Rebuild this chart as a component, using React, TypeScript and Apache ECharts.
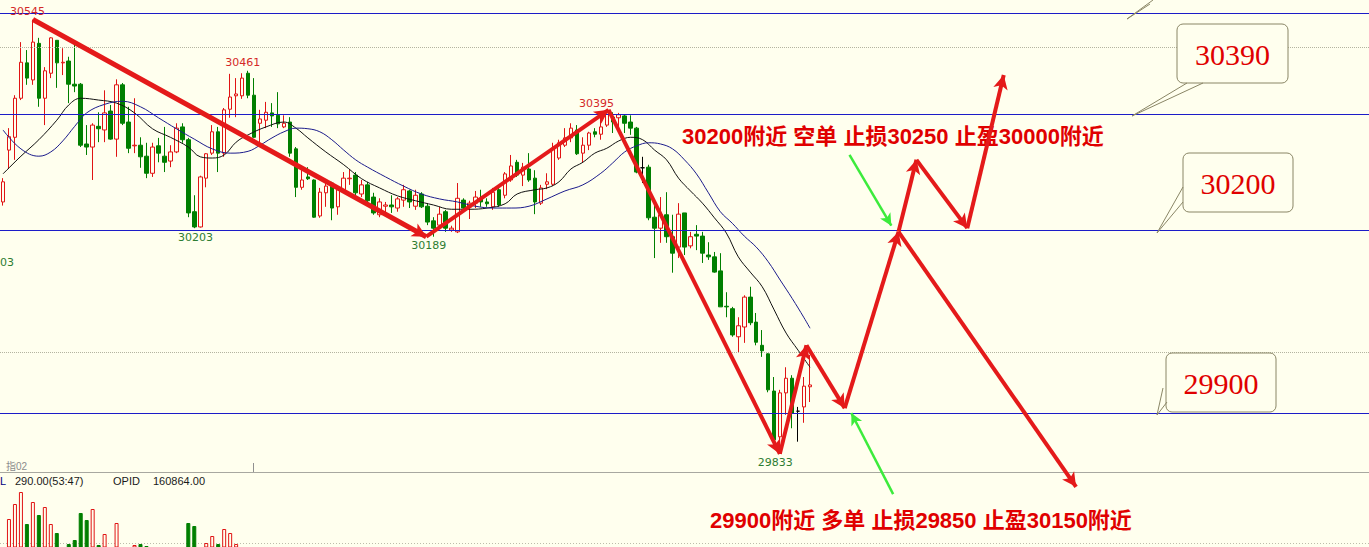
import { useEffect, useRef } from "react";
import * as echarts from "echarts";

// ---- palette ----
const BG = "#FFFFEE";
const UP = "#E01414";
const DOWN = "#007F00";
const LEVEL_BLUE = "#1C1CC8";
const ARROW_RED = "#E41A1A";
const CUE_GREEN = "#3CEB3C";

// ---- bar slots (the right part of the axis is left empty for the plan) ----
const categories = Array.from({ length: 229 }, (_, i) => `${i + 1}`);

// ---- OHLC ----
const opens = [
  30246, 30331, 30352, 30416, 30474, 30446, 30506, 30416, 30457, 30511,
  30474, 30477, 30439, 30439, 30341, 30336, 30370, 30364, 30395, 30349,
  30438, 30377, 30338, 30339, 30321, 30293, 30338, 30321, 30313, 30328,
  30369, 30348, 30230, 30205, 30285, 30326, 30361, 30326, 30398, 30420,
  30420, 30457, 30421, 30375, 30380, 30392, 30388, 30369, 30377, 30333,
  30270, 30287, 30282, 30223, 30261, 30277, 30238, 30266, 30284, 30290,
  30259, 30274, 30254, 30225, 30239, 30241, 30236, 30249, 30264, 30239,
  30259, 30239, 30215, 30208, 30230, 30200, 30197, 30249, 30238, 30244,
  30251, 30246, 30238, 30266, 30257, 30282, 30311, 30290, 30300, 30285,
  30244, 30275, 30275, 30318, 30339, 30351, 30364, 30326, 30339, 30361,
  30357, 30372, 30385, 30384, 30387, 30377, 30367, 30302, 30303, 30221,
  30203, 30225, 30189, 30172, 30228, 30174, 30193, 30190, 30159, 30156,
  30133, 30075, 30071, 30025, 30041, 30090, 30049, 30011, 29997, 29936,
  29861, 29933, 29957, 29903, 29910, 29943,
];
const closes = [
  30279, 30353, 30416, 30475, 30449, 30508, 30416, 30461, 30515, 30474,
  30475, 30439, 30436, 30339, 30336, 30372, 30366, 30392, 30349, 30438,
  30375, 30334, 30339, 30320, 30293, 30336, 30326, 30311, 30328, 30367,
  30348, 30228, 30205, 30287, 30325, 30361, 30326, 30397, 30418, 30423,
  30449, 30421, 30352, 30382, 30393, 30387, 30374, 30375, 30326, 30270,
  30282, 30284, 30221, 30262, 30272, 30236, 30266, 30285, 30285, 30261,
  30274, 30248, 30228, 30246, 30241, 30238, 30251, 30266, 30246, 30257,
  30238, 30213, 30203, 30226, 30203, 30203, 30252, 30236, 30244, 30254,
  30246, 30243, 30262, 30241, 30292, 30305, 30290, 30303, 30282, 30246,
  30269, 30279, 30334, 30343, 30351, 30367, 30325, 30339, 30359, 30357,
  30369, 30392, 30377, 30389, 30375, 30367, 30295, 30302, 30220, 30203,
  30225, 30189, 30162, 30226, 30172, 30189, 30190, 30162, 30156, 30131,
  30074, 30074, 30028, 30043, 30090, 30048, 30016, 30002, 29938, 29856,
  29933, 29957, 29900, 29903, 29944, 29946,
];
const lows = [
  30240, 30300, 30315, 30413, 30438, 30438, 30402, 30372, 30449, 30433,
  30454, 30408, 30426, 30336, 30323, 30282, 30344, 30344, 30348, 30320,
  30372, 30326, 30326, 30302, 30285, 30287, 30311, 30295, 30303, 30326,
  30343, 30221, 30203, 30204, 30270, 30323, 30295, 30320, 30384, 30385,
  30415, 30416, 30351, 30344, 30367, 30369, 30367, 30367, 30320, 30254,
  30266, 30282, 30220, 30220, 30238, 30216, 30225, 30261, 30274, 30257,
  30254, 30241, 30225, 30221, 30228, 30228, 30230, 30238, 30236, 30233,
  30236, 30208, 30189, 30203, 30197, 30197, 30195, 30233, 30218, 30236,
  30238, 30238, 30233, 30238, 30252, 30279, 30287, 30272, 30279, 30226,
  30241, 30267, 30272, 30315, 30336, 30344, 30323, 30310, 30331, 30352,
  30348, 30369, 30359, 30364, 30359, 30356, 30293, 30277, 30216, 30154,
  30179, 30179, 30130, 30154, 30159, 30170, 30167, 30146, 30151, 30130,
  30074, 30057, 30025, 30000, 30015, 30044, 30011, 29992, 29934, 29844,
  29833, 29897, 29875, 29853, 29884, 29918,
];
const highs = [
  30285, 30367, 30421, 30508, 30495, 30545, 30515, 30467, 30516, 30511,
  30498, 30484, 30506, 30441, 30372, 30375, 30393, 30429, 30405, 30447,
  30441, 30402, 30416, 30352, 30343, 30343, 30351, 30369, 30339, 30375,
  30375, 30351, 30257, 30289, 30326, 30372, 30369, 30400, 30456, 30449,
  30457, 30461, 30449, 30397, 30410, 30408, 30426, 30388, 30385, 30336,
  30302, 30303, 30283, 30269, 30277, 30279, 30270, 30295, 30300, 30295,
  30282, 30279, 30261, 30252, 30246, 30257, 30254, 30274, 30266, 30266,
  30262, 30244, 30221, 30238, 30233, 30207, 30277, 30252, 30248, 30264,
  30266, 30252, 30269, 30270, 30295, 30323, 30315, 30310, 30326, 30298,
  30274, 30293, 30343, 30348, 30367, 30375, 30372, 30352, 30361, 30367,
  30388, 30395, 30393, 30392, 30390, 30388, 30369, 30320, 30307, 30249,
  30254, 30262, 30225, 30244, 30228, 30197, 30208, 30197, 30180, 30164,
  30162, 30098, 30074, 30057, 30093, 30107, 30064, 30036, 29998, 29959,
  29938, 29975, 29962, 29910, 29959, 29995,
];

// ---- volume (lots) ----
const volumes = [
  4000, 8100, 9600, 10800, 7600, 9800, 8500, 9300, 7600, 6700,
  5000, 5600, 6000, 8700, 8000, 9100, 5500, 6600, 4800, 7700,
  4500, 5200, 5500, 5600, 5400, 4000, 3500, 4200, 3800, 5000,
  4600, 7700, 7400, 5000, 5700, 6400, 5600, 7100, 6700, 5600,
  4300, 3900, 5100, 3600, 3100, 2800, 3300, 2900, 4100, 4800,
  3200, 2600, 4700, 3900, 3000, 3700, 3400, 2500, 3100, 2800,
  2700, 3300, 3500, 3000, 2400, 2200, 2900, 3100, 2600, 2800,
  2500, 3400, 4200, 3600, 3800, 2300, 4900, 3000, 2700, 2900,
  2600, 2100, 3200, 2800, 3900, 4100, 3300, 2900, 3100, 4200,
  3000, 2600, 4800, 3700, 3400, 3600, 4000, 3200, 3300, 2400,
  3500, 4400, 3100, 2700, 2900, 3200, 4900, 3800, 5000, 4600,
  4300, 4700, 4900, 4500, 4400, 3300, 3400, 4200, 3100, 3900,
  5000, 3600, 4800, 4400, 4600, 4300, 4500, 3900, 5100, 5200,
  5100, 4700, 4900, 3800, 4200, 3500,
];

// ---- moving averages, [bar position, price] ----
const maFast = [
  [0, 30292], [3, 30321], [6, 30348], [9, 30380], [11, 30405], [13, 30416],
  [16, 30413], [19, 30408], [22, 30392], [25, 30366], [28, 30352], [31, 30336],
  [33, 30320], [35, 30318], [37, 30323], [39, 30344], [41, 30356], [44, 30369],
  [47, 30377], [49, 30367], [51, 30351], [54, 30328], [57, 30307], [60, 30284],
  [63, 30269], [66, 30256], [69, 30248], [72, 30241], [75, 30234], [78, 30234],
  [81, 30236], [84, 30243], [86, 30259], [89, 30266], [91, 30269], [93, 30279],
  [95, 30300], [97, 30311], [99, 30326], [101, 30334], [103, 30346], [105, 30352],
  [107, 30348], [109, 30331], [111, 30315], [113, 30285], [115, 30264], [117, 30244],
  [119, 30220], [121, 30195], [123, 30156], [125, 30131], [127, 30107], [129, 30069],
  [131, 30031], [133, 30003], [135, 29975],
];
const maSlow = [
  [0, 30364], [3, 30333], [6, 30321], [8, 30328], [10, 30346], [12, 30370],
  [14, 30392], [17, 30406], [20, 30411], [23, 30402], [26, 30384], [29, 30366],
  [32, 30349], [35, 30333], [38, 30326], [41, 30329], [43, 30339], [45, 30351],
  [47, 30361], [49, 30367], [51, 30366], [53, 30361], [55, 30348], [57, 30331],
  [59, 30315], [61, 30303], [64, 30287], [67, 30272], [70, 30259], [73, 30251],
  [76, 30246], [79, 30239], [82, 30236], [85, 30236], [88, 30239], [91, 30251],
  [94, 30264], [97, 30274], [100, 30293], [102, 30310], [104, 30328], [106, 30338],
  [108, 30343], [110, 30341], [112, 30333], [114, 30315], [116, 30292], [118, 30261],
  [120, 30230], [122, 30211], [124, 30190], [126, 30172], [128, 30148], [130, 30118],
  [132, 30088], [134, 30056], [135, 30039],
];

// ---- drawn levels ----
const levelLines = [30555, 30390, 30200, 29900];
const gridLevels = [30500, 30000];

// ---- swing labels: [label position, first bar, last bar] ----
const swingHighs = [
  [4.1, 0, 20],
  [40.1, 35, 50],
  [99.3, 90, 110],
];
const swingLows = [
  [32.2, 25, 40],
  [71.2, 60, 85],
  [129.2, 120, 135],
];

// ---- trade plan path, [bar position, price] ----
const planPath = [
  [5, 30545], [70.8, 30189], [101.3, 30397], [129.95, 29833], [134.4, 30011],
  [140.8, 29908], [149.8, 30197], [152.8, 30315], [161.3, 30203], [167.4, 30454],
];
const planBranch = [[149.8, 30197], [179.5, 29779]];
const cueArrows = [
  [[141.6, 30323], [148.6, 30207]],
  [[148.9, 29767], [141.9, 29900]],
];

const shortPlan = "30200附近 空单 止损30250 止盈30000附近";
const longPlan = "29900附近 多单 止损29850 止盈30150附近";
const calloutLevels = ["30390", "30200", "29900"];

export default function App() {
  const ref = useRef<HTMLDivElement>(null);

  useEffect(() => {
    if (!ref.current) return;
    const chart = echarts.init(ref.current, undefined, { renderer: "svg" });

    const candleData = opens.map((o, i) => {
      const item: any = { value: [o, closes[i], lows[i], highs[i]] };
      if (o === closes[i]) {
        item.itemStyle = { color: "#000", color0: "#000", borderColor: "#000", borderColor0: "#000" };
      }
      return item;
    });

    const volumeData = volumes.map((v, i) => {
      const up = closes[i] >= opens[i];
      return {
        value: v,
        itemStyle: up
          ? { color: BG, borderColor: UP, borderWidth: 1 }
          : { color: DOWN, borderColor: DOWN, borderWidth: 1 },
      };
    });

    const highPoints = swingHighs.map(([pos, a, b]) => {
      const v = Math.max(...highs.slice(a, b + 1));
      return {
        coord: [pos, v],
        value: v,
        label: { position: "top", distance: 2, color: "#D42828" },
      };
    });
    const lowPoints = swingLows.map(([pos, a, b]) => {
      const v = Math.min(...lows.slice(a, b + 1));
      return {
        coord: [pos, v],
        value: v,
        label: { position: "bottom", distance: 3, color: "#2E7D32" },
      };
    });

    const planSegs: any[] = [];
    for (let j = 0; j < planPath.length - 1; j++) {
      planSegs.push([
        { coord: planPath[j], lineStyle: { width: j === 0 ? 5 : 4 } },
        { coord: planPath[j + 1] },
      ]);
    }
    planSegs.push([{ coord: planBranch[0] }, { coord: planBranch[1] }]);

    const labelFont = { fontFamily: "DejaVu Sans", fontSize: 11 };

    const planFont = 'bold 22px "Liberation Sans", "Noto Sans CJK SC", sans-serif';
    const calloutFont = '30px "Liberation Serif", serif';
    const boxStyle = { fill: BG, stroke: "#8A8666", lineWidth: 1 };
    const tailStyle = { stroke: "#8A8666", lineWidth: 1, fill: null as any };
    const mid = { textVerticalAlign: "middle", verticalAlign: "middle" };

    const callouts = [
      { x: 1177, y: 24, w: 111, h: 59, tail: [[1187, 83], [1132, 116], [1203, 83]] },
      { x: 1183, y: 153, w: 110, h: 59, tail: [[1183, 187], [1157, 233], [1183, 202]] },
      { x: 1166, y: 353, w: 110, h: 59, tail: [[1163, 388], [1157, 415], [1167, 402]] },
    ];

    const graphic: any[] = [
      // pane separator and tick
      { type: "line", z: 1, shape: { x1: 0, y1: 472.5, x2: 1369, y2: 472.5 }, style: { stroke: "#A8A8A0", lineWidth: 1 } },
      { type: "line", z: 1, shape: { x1: 253.5, y1: 463, x2: 253.5, y2: 472 }, style: { stroke: "#909090", lineWidth: 1 } },
      { type: "line", z: 1, shape: { x1: 0, y1: 543.5, x2: 1369, y2: 543.5 }, style: { stroke: "#BDBDAA", lineWidth: 1, lineDash: [1, 2] } },
      { type: "text", z: 1, x: 6, y: 466, style: { text: "指02", font: '10px "Liberation Sans", "Noto Sans CJK SC", sans-serif', fill: "#8C8C8C", ...mid } },
      { type: "text", z: 1, x: 0, y: 262, style: { text: "03", font: '11px "DejaVu Sans"', fill: "#2E7D32", ...mid } },
      // volume pane header
      { type: "text", z: 1, x: 0, y: 481, style: { text: "L", font: '11px "Liberation Sans"', fill: "#000080", ...mid } },
      { type: "text", z: 1, x: 15, y: 481, style: { text: "290.00(53:47)", font: '11px "Liberation Sans"', fill: "#1A1A1A", ...mid } },
      { type: "text", z: 1, x: 113, y: 481, style: { text: "OPID", font: '11px "Liberation Sans"', fill: "#1A1A1A", ...mid } },
      { type: "text", z: 1, x: 153, y: 481, style: { text: "160864.00", font: '11px "Liberation Sans"', fill: "#1A1A1A", ...mid } },
      // trade plan notes
      { type: "text", z: 1, x: 682, y: 136, style: { text: shortPlan, font: planFont, fill: "#E00000", ...mid } },
      { type: "text", z: 1, x: 710, y: 520, style: { text: longPlan, font: planFont, fill: "#E00000", ...mid } },
      // tail of a callout above the view
      { type: "polyline", z: 10, shape: { points: [[1153, 0], [1127, 19], [1150, 4]] }, style: tailStyle },
    ];

    callouts.forEach((c, idx) => {
      graphic.push({ type: "rect", z: 10, shape: { x: c.x, y: c.y, width: c.w, height: c.h, r: 6 }, style: boxStyle });
      graphic.push({ type: "polyline", z: 11, shape: { points: c.tail }, style: tailStyle });
      graphic.push({
        type: "text",
        z: 12,
        x: c.x + c.w / 2,
        y: c.y + c.h / 2 + 1,
        style: {
          text: calloutLevels[idx],
          font: calloutFont,
          fill: "#E00000",
          textAlign: "center",
          align: "center",
          ...mid,
        },
      });
    });

    const pxPerPoint = 472 / 773.75;
    const yMax = 30577.05;
    const yMin = yMax - 547 / pxPerPoint;

    chart.setOption({
      animation: false,
      backgroundColor: BG,
      grid: [
        { left: -4.7, top: 0, width: 1374, height: 547 },
        { left: -4.7, top: 480, width: 1374, height: 67 },
      ],
      xAxis: [
        { type: "category", gridIndex: 0, data: categories, boundaryGap: true, show: false },
        { type: "value", gridIndex: 0, min: -0.5, max: 228.5, show: false },
        { type: "category", gridIndex: 1, data: categories, boundaryGap: true, show: false },
      ],
      yAxis: [
        { type: "value", gridIndex: 0, min: yMin, max: yMax, show: false },
        { type: "value", gridIndex: 1, min: 5300, max: 12000, show: false },
      ],
      graphic,
      series: [
        {
          type: "candlestick",
          xAxisIndex: 0,
          yAxisIndex: 0,
          data: candleData,
          barWidth: 4,
          z: 3,
          itemStyle: { color: BG, color0: DOWN, borderColor: UP, borderColor0: DOWN, borderWidth: 1 },
          emphasis: { disabled: true },
          markLine: {
            silent: true,
            symbol: "none",
            label: { show: false },
            emphasis: { disabled: true },
            data: [
              ...gridLevels.map((v) => ({ yAxis: v, lineStyle: { color: "#B4B4A0", type: "dotted", width: 1 } })),
              ...levelLines.map((v) => ({ yAxis: v, lineStyle: { color: LEVEL_BLUE, type: "solid", width: 1 } })),
            ],
          },
        },
        {
          type: "line",
          xAxisIndex: 1,
          yAxisIndex: 0,
          data: maFast,
          smooth: 0.4,
          showSymbol: false,
          z: 4,
          lineStyle: { color: "#111", width: 1 },
          emphasis: { disabled: true },
        },
        {
          type: "line",
          xAxisIndex: 1,
          yAxisIndex: 0,
          data: maSlow,
          smooth: 0.4,
          showSymbol: false,
          z: 4,
          lineStyle: { color: "#1C1C8C", width: 1 },
          emphasis: { disabled: true },
        },
        {
          type: "line",
          xAxisIndex: 1,
          yAxisIndex: 0,
          data: [],
          clip: false,
          z: 5,
          markLine: {
            silent: true,
            symbol: ["none", "arrow"],
            symbolSize: [11, 14],
            label: { show: false },
            emphasis: { disabled: true },
            lineStyle: { color: ARROW_RED, width: 4, type: "solid" },
            data: planSegs,
          },
          markPoint: {
            silent: true,
            symbol: "circle",
            symbolSize: 1,
            itemStyle: { color: "transparent" },
            label: { show: true, ...labelFont, formatter: (p: any) => String(p.value) },
            data: [...highPoints, ...lowPoints],
          },
        },
        {
          type: "line",
          xAxisIndex: 1,
          yAxisIndex: 0,
          data: [],
          clip: false,
          z: 5,
          markLine: {
            silent: true,
            symbol: ["none", "arrow"],
            symbolSize: [9, 12],
            label: { show: false },
            emphasis: { disabled: true },
            lineStyle: { color: CUE_GREEN, width: 2.5, type: "solid" },
            data: cueArrows.map(([a, b]) => [{ coord: a }, { coord: b }]),
          },
        },
        {
          type: "bar",
          xAxisIndex: 2,
          yAxisIndex: 1,
          data: volumeData,
          barWidth: 4,
          z: 3,
          clip: true,
          emphasis: { disabled: true },
        },
      ],
    });

    return () => chart.dispose();
  }, []);

  return (
    <div
      ref={ref}
      style={{ position: "fixed", left: 0, top: 0, width: 1369, height: 547, background: BG }}
    />
  );
}
